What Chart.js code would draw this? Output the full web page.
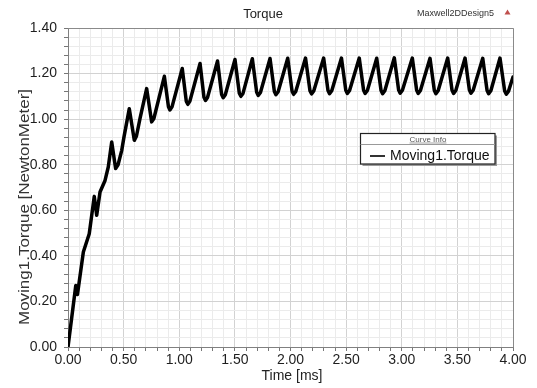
<!DOCTYPE html>
<html><head><meta charset="utf-8">
<script src="https://cdn.jsdelivr.net/npm/chart.js@4.4.1/dist/chart.umd.min.js"></script>
<style>html,body{margin:0;padding:0;background:#fff;}#wrap{width:537px;height:388px;position:relative;}</style>
</head><body><div id="wrap"><canvas id="c" width="537" height="388"></canvas></div>
<script>
// ---- data ----
const timeMs = [0, 0.07, 0.085, 0.138, 0.191, 0.236, 0.258, 0.288, 0.333, 0.362, 0.393,
  0.428, 0.45, 0.483, 0.503, 0.551, 0.596, 0.615, 0.647, 0.707, 0.752, 0.772,
  0.866, 0.903, 0.916, 0.935,
  1.027, 1.063, 1.077, 1.095,
  1.187, 1.222, 1.236, 1.254,
  1.344, 1.381, 1.395, 1.414,
  1.501, 1.540, 1.554, 1.573,
  1.657, 1.696, 1.710, 1.730,
  1.816, 1.855, 1.869, 1.889,
  1.975, 2.014, 2.028, 2.048,
  2.135, 2.175, 2.189, 2.209,
  2.298, 2.337, 2.351, 2.371,
  2.458, 2.497, 2.511, 2.531,
  2.618, 2.657, 2.671, 2.691,
  2.775, 2.814, 2.828, 2.848,
  2.933, 2.972, 2.986, 3.006,
  3.095, 3.134, 3.148, 3.168,
  3.254, 3.293, 3.307, 3.327,
  3.413, 3.452, 3.466, 3.486,
  3.569, 3.608, 3.622, 3.642,
  3.728, 3.767, 3.781, 3.801,
  3.883, 3.925, 3.940, 3.960, 4.0];
const torqueNm = [0, 0.27, 0.23, 0.417, 0.497, 0.661, 0.578, 0.68, 0.731, 0.79, 0.90,
  0.783, 0.80, 0.863, 0.921, 1.046, 0.907, 0.925, 1.002, 1.134, 0.988, 1.003,
  1.188, 1.054, 1.040, 1.054,
  1.222, 1.079, 1.065, 1.078,
  1.244, 1.096, 1.082, 1.095,
  1.255, 1.108, 1.094, 1.107,
  1.262, 1.114, 1.100, 1.113,
  1.265, 1.118, 1.104, 1.117,
  1.266, 1.121, 1.107, 1.120,
  1.267, 1.123, 1.109, 1.122,
  1.268, 1.125, 1.111, 1.124,
  1.268, 1.126, 1.112, 1.125,
  1.268, 1.127, 1.113, 1.126,
  1.268, 1.127, 1.113, 1.126,
  1.267, 1.126, 1.112, 1.125,
  1.269, 1.128, 1.114, 1.127,
  1.268, 1.127, 1.113, 1.126,
  1.267, 1.126, 1.112, 1.125,
  1.268, 1.127, 1.113, 1.126,
  1.268, 1.128, 1.114, 1.127,
  1.267, 1.126, 1.112, 1.125,
  1.268, 1.124, 1.110, 1.123, 1.185];
const xTickLabels = ['0.00','0.50','1.00','1.50','2.00','2.50','3.00','3.50','4.00'];
const yTickLabels = ['0.00','0.20','0.40','0.60','0.80','1.00','1.20','1.40'];
const chartTitle = 'Torque';
const designName = 'Maxwell2DDesign5';
const seriesName = 'Moving1.Torque';
const legendHeader = 'Curve Info';
const xAxisTitle = 'Time [ms]';
const yAxisTitle = 'Moving1.Torque [NewtonMeter]';

// ---- helpers ----
const FONT = '"Liberation Sans", Arial, sans-serif';
function withMinor(labels, sub) {
  const major = labels.map(Number);
  const out = [];
  for (let i = 0; i < major.length - 1; i++) {
    for (let k = 0; k < sub; k++) out.push(major[i] + (major[i + 1] - major[i]) * k / sub);
  }
  out.push(major[major.length - 1]);
  return out;
}
function labelFor(labels, v) {
  for (const l of labels) if (Math.abs(Number(l) - v) < 1e-6) return l;
  return null;
}

const overlay = {
  id: 'overlay',
  afterDraw(chart) {
    const ctx = chart.ctx, a = chart.chartArea;
    ctx.save();
    // plot border (top / right)
    ctx.strokeStyle = '#8a8a8a'; ctx.lineWidth = 1;
    ctx.beginPath();
    ctx.moveTo(a.left, a.top + 0.5); ctx.lineTo(a.right + 0.5, a.top + 0.5);
    ctx.lineTo(a.right + 0.5, a.bottom);
    ctx.stroke();
    // title
    ctx.fillStyle = '#222'; ctx.textAlign = 'center'; ctx.textBaseline = 'middle';
    ctx.font = '13px ' + FONT;
    ctx.fillText(chartTitle, 263, 14);
    // design name
    ctx.font = '9px ' + FONT; ctx.fillStyle = '#333'; ctx.textAlign = 'left';
    ctx.fillText(designName, 417, 14);
    // red triangle
    ctx.fillStyle = '#c0504d';
    ctx.beginPath(); ctx.moveTo(504.5, 14.5); ctx.lineTo(510.5, 14.5); ctx.lineTo(507.5, 9.5); ctx.closePath(); ctx.fill();
    // x axis title
    ctx.fillStyle = '#222'; ctx.textAlign = 'center';
    ctx.font = '14px ' + FONT;
    ctx.fillText(xAxisTitle, 292, 376);
    // y axis title
    ctx.save();
    ctx.translate(25, 207); ctx.rotate(-Math.PI / 2);
    ctx.font = '15px ' + FONT; ctx.fillStyle = '#333';
    const w = ctx.measureText(yAxisTitle).width;
    ctx.scale(236 / w, 1);
    ctx.fillText(yAxisTitle, 0, 0);
    ctx.restore();
    // legend box
    const bx = 360.5, by = 133.5, bw = 134.5, bh = 30.5;
    ctx.fillStyle = '#9a9a9a'; ctx.fillRect(bx + 2, by + 2, bw, bh);
    ctx.fillStyle = '#fff'; ctx.fillRect(bx, by, bw, bh);
    ctx.strokeStyle = '#222'; ctx.lineWidth = 1.2; ctx.strokeRect(bx, by, bw, bh);
    ctx.strokeStyle = '#999'; ctx.lineWidth = 1;
    ctx.beginPath(); ctx.moveTo(bx, 144.5); ctx.lineTo(bx + bw, 144.5); ctx.stroke();
    ctx.font = '8px ' + FONT; ctx.fillStyle = '#555'; ctx.textAlign = 'center';
    ctx.fillText(legendHeader, 428, 139.5);
    const hw = ctx.measureText(legendHeader).width;
    ctx.strokeStyle = '#666'; ctx.lineWidth = 0.6;
    ctx.beginPath(); ctx.moveTo(428 - hw / 2, 143); ctx.lineTo(428 + hw / 2, 143); ctx.stroke();
    ctx.strokeStyle = '#000'; ctx.lineWidth = 1.6;
    ctx.beginPath(); ctx.moveTo(370, 156); ctx.lineTo(385, 156); ctx.stroke();
    ctx.font = '14px ' + FONT; ctx.fillStyle = '#111'; ctx.textAlign = 'left';
    ctx.fillText(seriesName, 390, 156.5);
    ctx.restore();
  }
};

const gridColor = (labels) => (c) => (c.tick && labelFor(labels, c.tick.value) !== null) ? '#d2d2d2' : '#ebebeb';

new Chart(document.getElementById('c'), {
  type: 'line',
  data: {
    datasets: [{
      label: seriesName,
      data: timeMs.map((t, i) => ({ x: t, y: torqueNm[i] })),
      borderColor: '#000', borderWidth: 3.5, pointRadius: 0, tension: 0,
      borderJoinStyle: 'round', borderCapStyle: 'round', fill: false
    }]
  },
  options: {
    responsive: false, animation: false, devicePixelRatio: 1,
    layout: { padding: { top: 28, right: 24, left: 0, bottom: 0 } },
    plugins: { legend: { display: false }, title: { display: false }, tooltip: { enabled: false } },
    scales: {
      x: {
        type: 'linear', min: 0, max: 4,
        afterBuildTicks: (s) => { s.ticks = withMinor(xTickLabels, 5).map(v => ({ value: v })); },
        afterFit: (s) => { s.height = 41; },
        ticks: { autoSkip: false, maxRotation: 0, padding: 1, color: '#1e1e1e', font: { family: FONT, size: 14 },
          callback: (v) => labelFor(xTickLabels, v) || '' },
        grid: { color: gridColor(xTickLabels), lineWidth: 1, tickLength: 4, tickColor: '#777' },
        border: { display: true, color: '#808080', width: 1 }
      },
      y: {
        type: 'linear', min: 0, max: 1.4,
        afterBuildTicks: (s) => { s.ticks = withMinor(yTickLabels, 5).map(v => ({ value: v })); },
        afterFit: (s) => { s.width = 68; },
        ticks: { autoSkip: false, padding: 7, color: '#1e1e1e', font: { family: FONT, size: 14 },
          callback: (v) => labelFor(yTickLabels, v) || '' },
        grid: { color: gridColor(yTickLabels), lineWidth: 1, tickLength: 4, tickColor: '#777' },
        border: { display: true, color: '#808080', width: 1 }
      }
    }
  },
  plugins: [overlay]
});
</script>
</body></html>
